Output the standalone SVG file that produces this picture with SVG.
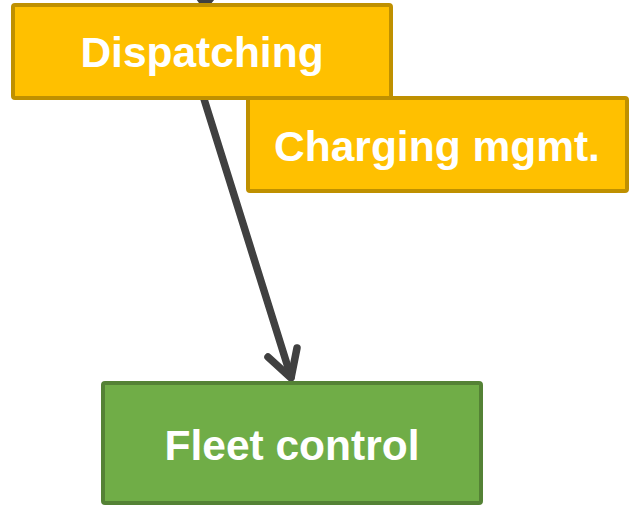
<svg xmlns="http://www.w3.org/2000/svg" width="633" height="506" viewBox="0 0 633 506">
<style>
.box-y{fill:#FFC000;stroke:#BF9000;stroke-width:4}
.box-g{fill:#70AD47;stroke:#548235;stroke-width:4}
.lbl{font-family:"Liberation Sans",Arial,sans-serif;font-weight:bold;font-size:42.5px;fill:#FFFFFF;text-anchor:middle}
.conn{fill:none;stroke:#404040;stroke-width:7.5;stroke-linecap:round;stroke-linejoin:round}
</style>
<rect width="633" height="506" fill="#FFFFFF"/>
<g id="connectors">
<path class="conn" d="M199,-60 L205,5"/>
<path class="conn" d="M190,-16 L205,5 L221,-14"/>
<path class="conn" d="M204,99 L291,377"/>
<path class="conn" d="M268,357 L291,378 L297,348"/>
</g>
<g id="dispatching">
<rect class="box-y" x="13" y="5" width="378" height="93" rx="2"/>
<text class="lbl" x="202" y="67">Dispatching</text>
</g>
<g id="charging">
<rect class="box-y" x="248" y="98" width="379" height="93" rx="2"/>
<text class="lbl" x="437" y="161">Charging mgmt.</text>
</g>
<g id="fleet">
<rect class="box-g" x="103" y="383" width="378" height="120" rx="2"/>
<text class="lbl" x="292" y="460">Fleet control</text>
</g>
</svg>
